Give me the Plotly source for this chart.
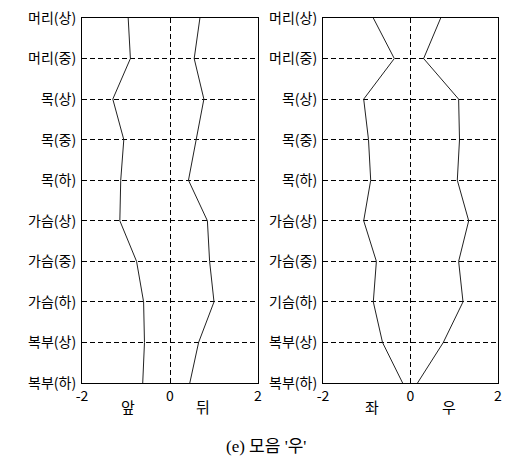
import plotly.graph_objects as go

# body positions, top to bottom
parts_left = ["머리(상)", "머리(중)", "목(상)", "목(중)", "목(하)",
              "가슴(상)", "가슴(중)", "가슴(하)", "복부(상)", "복부(하)"]
parts_right = ["머리(상)", "머리(중)", "목(상)", "목(중)", "목(하)",
               "가슴(상)", "가슴(중)", "기슴(하)", "복부(상)", "복부(하)"]

# front / back
front = [-0.95, -0.9, -1.3, -1.05, -1.12, -1.14, -0.76, -0.6, -0.58, -0.62]
back = [0.68, 0.55, 0.77, 0.6, 0.42, 0.85, 0.9, 1.0, 0.65, 0.45]

# left / right
left_side = [-0.85, -0.37, -1.07, -0.96, -0.91, -1.07, -0.78, -0.85, -0.64, -0.18]
right_side = [0.69, 0.3, 1.1, 1.12, 1.07, 1.33, 1.1, 1.2, 0.75, 0.16]

x_ticks = [-2, 0, 2]
dir_left = ["앞", "뒤"]
dir_left_pos = [-0.95, 0.75]
dir_right = ["좌", "우"]
dir_right_pos = [-0.87, 0.87]
caption = "(e) 모음 '우'"

FONT = "Noto Sans CJK KR"
idx = list(range(len(parts_left)))

# page body has an 8px margin, so work in window pixels and shift
OFF = 8
W, H = 502, 459


def px(x):
    return (x - OFF) / W


def py(y):
    return 1 - (y - OFF) / H


fig = go.Figure()
line = dict(color="#222222", width=1)
for xs in (front, back):
    fig.add_trace(go.Scatter(x=xs, y=idx, mode="lines", line=line,
                             xaxis="x", yaxis="y", showlegend=False))
for xs in (left_side, right_side):
    fig.add_trace(go.Scatter(x=xs, y=idx, mode="lines", line=line,
                             xaxis="x2", yaxis="y2", showlegend=False))

xcommon = dict(range=[-2, 2], tickvals=x_ticks, ticktext=[str(v) for v in x_ticks],
               showgrid=True, gridcolor="black", griddash="5px,3px", gridwidth=1,
               zeroline=False, showline=True, linecolor="black", linewidth=1,
               mirror=True, ticks="", automargin=False, ticklabelstandoff=0,
               ticklabeloverflow="allow",
               tickfont=dict(size=14, color="black", family=FONT))
ycommon = dict(range=[9, 0], tickvals=idx,
               showgrid=True, gridcolor="black", griddash="5px,3px", gridwidth=1,
               zeroline=False, showline=True, linecolor="black", linewidth=1,
               mirror=True, ticks="", ticklabelstandoff=2, automargin=False,
               ticklabeloverflow="allow",
               tickfont=dict(size=14, color="black", family=FONT))

fig.update_layout(
    width=W, height=H,
    margin=dict(l=0, r=0, t=0, b=0),
    paper_bgcolor="white", plot_bgcolor="white",
    font=dict(family=FONT, color="black"),
    xaxis=dict(domain=[px(82), px(258)], anchor="y", **xcommon),
    yaxis=dict(domain=[py(383), py(18)], anchor="x",
               ticktext=parts_left, **ycommon),
    xaxis2=dict(domain=[px(323), px(498)], anchor="y2", **xcommon),
    yaxis2=dict(domain=[py(383), py(18)], anchor="x2",
                ticktext=parts_right, **ycommon),
)

for txt, pos in zip(dir_left, dir_left_pos):
    fig.add_annotation(text=txt, x=pos, xref="x", y=py(419), yref="paper",
                       showarrow=False, font=dict(size=15, family=FONT))
for txt, pos in zip(dir_right, dir_right_pos):
    fig.add_annotation(text=txt, x=pos, xref="x2", y=py(419), yref="paper",
                       showarrow=False, font=dict(size=15, family=FONT))

fig.add_annotation(text=caption, x=px(266), xref="paper", y=py(458),
                   yref="paper", showarrow=False,
                   font=dict(size=17, family="Liberation Serif, " + FONT))

fig.write_html("out.html")
